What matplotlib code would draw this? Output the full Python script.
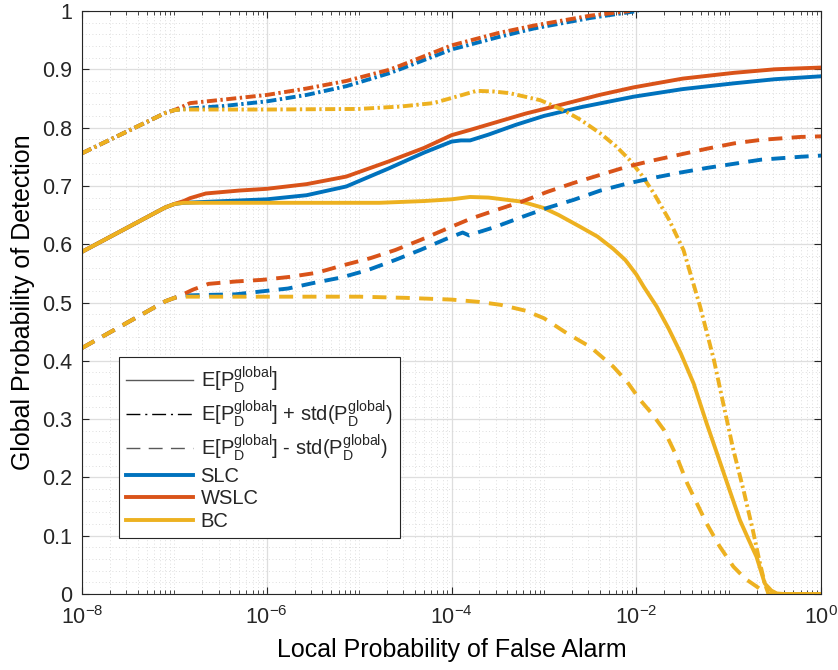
import numpy as np
import matplotlib
matplotlib.use('Agg')
import matplotlib.pyplot as plt
import matplotlib.ticker as ticker
from matplotlib.lines import Line2D

plt.rcParams['font.family'] = ['Liberation Sans', 'DejaVu Sans']
plt.rcParams['mathtext.default'] = 'regular'
plt.rcParams['text.color'] = '#262626'

# --- data (x given as log10 of local false alarm probability) ---
slc_mean_x = [-8, -7.1, -7.0, -6.9, -6.6, -6.3, -6.0, -5.57, -5.14, -4.68, -4.3, -4.0, -3.9, -3.8,
              -3.6, -3.3, -3.0, -2.6, -2.03, -1.5, -0.94, -0.5, 0]
slc_mean = [0.587, 0.663, 0.669, 0.671, 0.673, 0.675, 0.677, 0.684, 0.699, 0.730, 0.757, 0.776, 0.778, 0.778,
            0.788, 0.805, 0.820, 0.835, 0.853, 0.866, 0.876, 0.883, 0.888]

wslc_mean_x = [-8, -7.1, -7.0, -6.9, -6.83, -6.66, -6.3, -6.0, -5.57, -5.14, -4.68, -4.3, -4.0, -3.8,
               -3.5, -3.2, -2.82, -2.4, -2.03, -1.5, -0.94, -0.5, 0]
wslc_mean = [0.587, 0.663, 0.669, 0.674, 0.679, 0.687, 0.692, 0.695, 0.703, 0.716, 0.742, 0.765, 0.787, 0.796,
             0.810, 0.824, 0.839, 0.856, 0.869, 0.884, 0.894, 0.900, 0.903]

bc_mean_x = [-8, -7.1, -7.0, -6.9, -6.0, -5.0, -4.78, -4.3, -4.0, -3.8, -3.6, -3.24, -3.0, -2.84, -2.61,
             -2.42, -2.25, -2.12, -2.0, -1.92, -1.78, -1.65, -1.52, -1.38, -1.24, -1.09, -0.98, -0.88,
             -0.79, -0.70, -0.61, -0.54, -0.48, -0.4, 0]
bc_mean = [0.587, 0.663, 0.669, 0.671, 0.671, 0.671, 0.671, 0.674, 0.677, 0.681, 0.680, 0.673, 0.662, 0.650, 0.630,
           0.613, 0.592, 0.573, 0.548, 0.527, 0.493, 0.455, 0.413, 0.361, 0.293, 0.224, 0.173, 0.127,
           0.095, 0.064, 0.018, 0.006, 0.001, 0.0, 0.0]

slc_plus_x = [-8, -7.1, -7.0, -6.9, -6.83, -6.47, -6.0, -5.57, -5.14, -4.68, -4.56, -4.0, -3.5, -3.11,
              -2.5, -2.03, -1.98]
slc_plus = [0.756, 0.825, 0.830, 0.832, 0.833, 0.837, 0.845, 0.856, 0.871, 0.893, 0.900, 0.934, 0.955, 0.970,
            0.988, 0.999, 1.0]

wslc_plus_x = [-8, -7.1, -7.0, -6.9, -6.83, -6.47, -6.0, -5.57, -5.14, -4.68, -4.56, -4.0, -3.5, -3.11,
               -2.5, -2.07]
wslc_plus = [0.756, 0.825, 0.830, 0.837, 0.842, 0.848, 0.856, 0.867, 0.880, 0.899, 0.906, 0.941, 0.962, 0.975,
             0.992, 1.0]

bc_plus_x = [-8, -7.1, -7.0, -6.9, -6.0, -5.0, -4.68, -4.56, -4.2, -3.95, -3.73, -3.55, -3.37, -3.04, -2.79,
             -2.6, -2.39, -2.22, -2.07, -1.94, -1.81, -1.65, -1.49, -1.31, -1.16, -1.06, -0.95, -0.84,
             -0.74, -0.67, -0.61, -0.57, 0]
bc_plus = [0.756, 0.825, 0.830, 0.831, 0.831, 0.832, 0.835, 0.836, 0.842, 0.853, 0.863, 0.862, 0.859, 0.847, 0.830,
           0.813, 0.790, 0.768, 0.744, 0.718, 0.687, 0.643, 0.590, 0.493, 0.401, 0.327, 0.247, 0.178,
           0.110, 0.058, 0.018, 0.0, 0.0]

slc_minus_x = [-8, -7.1, -7.0, -6.9, -6.65, -6.34, -6.06, -5.77, -5.48, -5.19, -4.90, -4.61, -4.34, -4.06,
               -3.88, -3.81, -3.74, -3.52, -3.25, -2.97, -2.68, -2.39, -2.10, -1.81, -1.52, -1.23, -0.94,
               -0.65, -0.22, 0]
slc_minus = [0.422, 0.502, 0.508, 0.512, 0.513, 0.514, 0.519, 0.524, 0.534, 0.543, 0.556, 0.573, 0.590, 0.609,
             0.620, 0.615, 0.619, 0.630, 0.646, 0.662, 0.676, 0.692, 0.704, 0.714, 0.723, 0.731, 0.738,
             0.745, 0.750, 0.752]

wslc_minus_x = [-8, -7.1, -7.0, -6.92, -6.8, -6.63, -6.34, -6.04, -5.75, -5.46, -5.17, -4.88, -4.61, -4.34,
                -4.06, -3.79, -3.51, -3.24, -2.96, -2.68, -2.39, -2.10, -1.81, -1.52, -1.23, -0.94, -0.65,
                -0.22, 0]
wslc_minus = [0.422, 0.502, 0.508, 0.513, 0.522, 0.532, 0.536, 0.539, 0.544, 0.551, 0.564, 0.576, 0.590, 0.607,
              0.626, 0.644, 0.659, 0.673, 0.690, 0.705, 0.719, 0.733, 0.744, 0.754, 0.764, 0.773, 0.779,
              0.784, 0.785]

bc_minus_x = [-8, -7.1, -7.0, -6.9, -6.0, -5.0, -4.5, -4.0, -3.7, -3.47, -3.2, -3.0, -2.75, -2.5, -2.25,
              -2.1, -1.96, -1.83, -1.70, -1.57, -1.45, -1.24, -1.1, -0.95, -0.82, -0.70, -0.59, 0]
bc_minus = [0.422, 0.502, 0.508, 0.510, 0.510, 0.510, 0.508, 0.505, 0.501, 0.496, 0.486, 0.473, 0.447, 0.424, 0.390,
            0.364, 0.333, 0.309, 0.281, 0.238, 0.190, 0.121, 0.082, 0.047, 0.026, 0.013, 0.0, 0.0]

labels = ['SLC', 'WSLC', 'BC']
colors = ['#0072BD', '#D95319', '#EDB120']

# --- figure ---
fig = plt.figure(figsize=(8.38, 6.70), dpi=100)
ax = fig.add_axes([0.0979, 0.1134, 0.882, 0.8702])

lw = 2.8
dash = (0, (3.6, 2.4))
dashdot = (0, (2.6, 0.9, 0.6, 0.9))

mean_sets = [(slc_mean_x, slc_mean), (wslc_mean_x, wslc_mean), (bc_mean_x, bc_mean)]
plus_sets = [(slc_plus_x, slc_plus), (wslc_plus_x, wslc_plus), (bc_plus_x, bc_plus)]
minus_sets = [(slc_minus_x, slc_minus), (wslc_minus_x, wslc_minus), (bc_minus_x, bc_minus)]

for (xs, ys), c in zip(mean_sets, colors):
    ax.plot(10.0 ** np.array(xs), ys, color=c, lw=lw, ls='-')
for (xs, ys), c in zip(plus_sets, colors):
    ax.plot(10.0 ** np.array(xs), ys, color=c, lw=lw, ls=dashdot)
for (xs, ys), c in zip(minus_sets, colors):
    ax.plot(10.0 ** np.array(xs), ys, color=c, lw=lw, ls=dash)

ax.set_xscale('log')
ax.set_xlim(1e-8, 1)
ax.set_ylim(0, 1)

# ticks
ax.xaxis.set_major_locator(ticker.FixedLocator([1e-8, 1e-6, 1e-4, 1e-2, 1]))
ax.xaxis.set_major_formatter(ticker.LogFormatterSciNotation())
ax.xaxis.set_minor_locator(ticker.LogLocator(base=10, subs=np.arange(1, 10), numticks=50))
ax.xaxis.set_minor_formatter(ticker.NullFormatter())
ax.yaxis.set_major_locator(ticker.MultipleLocator(0.1))
ax.yaxis.set_major_formatter(ticker.FormatStrFormatter('%g'))
ax.yaxis.set_minor_locator(ticker.MultipleLocator(0.02))

ax.tick_params(which='both', direction='in', top=True, right=True, colors='#262626', labelsize=15.5)
ax.tick_params(which='major', length=5, width=0.8)
ax.tick_params(axis='x', which='major', pad=9)
ax.tick_params(axis='y', which='major', pad=7)
ax.tick_params(axis='x', which='minor', length=3, width=0.6)
ax.tick_params(axis='y', which='minor', length=0)
for s in ax.spines.values():
    s.set_color('#262626')
    s.set_linewidth(0.8)

# grid
ax.grid(which='major', color='#dedede', lw=0.9, ls='-')
ax.grid(which='minor', color='#d4d4d4', lw=0.6, ls=(0, (1, 3)))
ax.set_axisbelow(True)

ax.set_xlabel('Local Probability of False Alarm', fontsize=18, labelpad=6)
ax.set_ylabel('Global Probability of Detection', fontsize=18, labelpad=5)

# legend
handles = [
    Line2D([], [], color='0.35', lw=1.0, ls='-'),
    Line2D([], [], color='black', lw=1.0, ls=(0, (10, 3.5, 1.5, 3.5))),
    Line2D([], [], color='0.35', lw=1.0, ls=(0, (10, 6))),
    Line2D([], [], color=colors[0], lw=lw),
    Line2D([], [], color=colors[1], lw=lw),
    Line2D([], [], color=colors[2], lw=lw),
]
names = [
    r'E[$P_D^{global}$]',
    r'E[$P_D^{global}$] + std($P_D^{global}$)',
    r'E[$P_D^{global}$] - std($P_D^{global}$)',
] + labels
leg = ax.legend(handles, names, loc='lower left', bbox_to_anchor=(0.05, 0.096), borderaxespad=0,
                fontsize=14.5, handlelength=3.3, handletextpad=0.4, labelspacing=0.18, borderpad=0.35,
                frameon=True, fancybox=False, framealpha=1, edgecolor='#262626')
leg.get_frame().set_linewidth(0.8)

plt.savefig('out.png', dpi=100)
